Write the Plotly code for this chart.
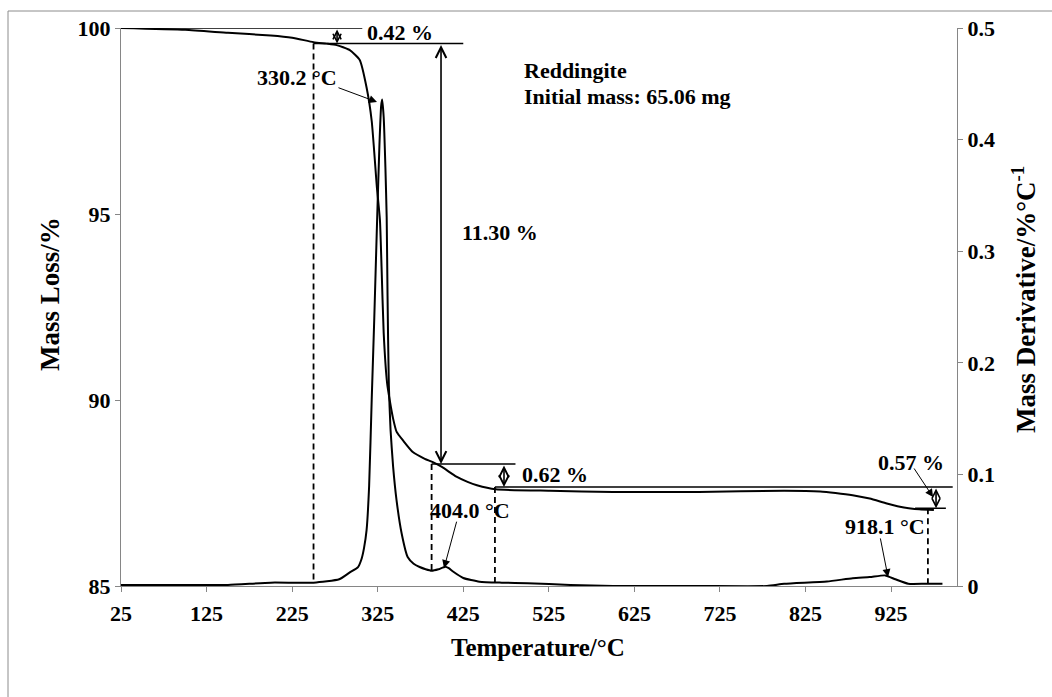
import numpy as np
import plotly.graph_objects as go

# ---------------- data ----------------
tg_temp = [25, 100, 150, 200, 225, 250, 265, 277, 292, 304, 312, 318, 324, 327.6,
           329.5, 332, 336, 339, 343, 347, 355, 366, 380, 389.5, 400, 417, 430, 441,
           463, 526, 600, 700, 800, 842, 860, 880, 900, 920, 940, 958, 975]
tg_mass = [100.0, 99.95, 99.87, 99.80, 99.74, 99.62, 99.58, 99.54, 99.41, 99.14, 98.4,
           97.5, 95.73, 94.84, 93.58, 91.8, 90.45, 90.0, 89.5, 89.15, 88.9, 88.6, 88.42,
           88.33, 88.2, 87.94, 87.8, 87.71, 87.6, 87.56, 87.53, 87.53, 87.56, 87.54,
           87.5, 87.44, 87.35, 87.22, 87.11, 87.06, 87.04]

dtg_temp = [25, 100, 150, 200, 250, 280, 292, 302, 306, 309, 312, 315, 318, 321, 324,
            327, 329, 330.2, 332, 334, 335.5, 336.5, 338, 340, 343, 347, 353, 360, 367,
            374, 381, 388, 396, 404, 408, 413, 425, 444, 470, 500, 550, 600, 700, 780,
            800, 850, 880, 900, 918.1, 930, 945, 965, 985]
dtg_val = [0.001, 0.001, 0.001, 0.003, 0.003, 0.006, 0.012, 0.017, 0.024, 0.034, 0.05,
           0.09, 0.167, 0.24, 0.32, 0.395, 0.43, 0.436, 0.42, 0.375, 0.33, 0.26, 0.18,
           0.14, 0.107, 0.077, 0.047, 0.026, 0.02, 0.017, 0.015, 0.0137, 0.015, 0.0173,
           0.016, 0.013, 0.0072, 0.0039, 0.003, 0.0025, 0.001, 0.0, 0.0, 0.0, 0.002,
           0.004, 0.007, 0.008, 0.0095, 0.006, 0.002, 0.002, 0.002]

x_ticks = [25, 125, 225, 325, 425, 525, 625, 725, 825, 925]
y_left_ticks = [85, 90, 95, 100]
y_right_ticks = [0, 0.1, 0.2, 0.3, 0.4, 0.5]

step_losses = [0.42, 11.30, 0.62, 0.57]          # % mass loss of each step
step_bounds = [250, 388, 462, 968]              # step boundary temperatures (dashed lines)
peak_temps = [330.2, 404.0, 918.1]
sample_name = "Reddingite"
initial_mass = "65.06 mg"

# ---------------- helpers ----------------
FONT = "Liberation Serif, Times New Roman, serif"
X_RANGE = [25, 1002]
YL = [85, 100]
YR = [0, 0.5]


def dtg_as_left(t):
    """DTG value at temperature t, expressed on the left (mass) axis."""
    d = float(np.interp(t, dtg_temp, dtg_val))
    return YL[0] + (d - YR[0]) / (YR[1] - YR[0]) * (YL[1] - YL[0])


levels = [100.0]
for s in step_losses:
    levels.append(round(levels[-1] - s, 2))

fig = go.Figure()
fig.add_trace(go.Scatter(x=tg_temp, y=tg_mass, mode="lines",
                         line=dict(color="black", width=2, shape="spline",
                                   smoothing=0.5),
                         yaxis="y", name="TG"))
fig.add_trace(go.Scatter(x=dtg_temp, y=dtg_val, mode="lines",
                         line=dict(color="black", width=2, shape="spline",
                                   smoothing=0.5),
                         yaxis="y2", name="DTG"))

axis_common = dict(showgrid=False, zeroline=False, showline=True,
                   linecolor="#868686", linewidth=1, ticks="outside", ticklen=5,
                   tickcolor="#868686",
                   tickfont=dict(family=FONT, size=22, color="black", weight="bold"))

shapes = []
annotations = []

LINE = dict(color="black", width=1.5)
DASH = dict(color="black", width=1.8, dash="6px,4px")

# horizontal level lines
h_lines = [
    (levels[0], 25, 307),
    (levels[1], step_bounds[0], 425),
    (levels[2], step_bounds[1], 486),
    (levels[3], step_bounds[2], 997),
    (levels[4], 953, 989),
]
for lvl, x0, x1 in h_lines:
    shapes.append(dict(type="line", xref="x", yref="y", x0=x0, x1=x1,
                       y0=lvl, y1=lvl, line=LINE))

# dashed vertical lines
dash_tops = [levels[1], levels[2], levels[3], levels[4]]
for t, top in zip(step_bounds, dash_tops):
    shapes.append(dict(type="line", xref="x", yref="y", x0=t, x1=t,
                       y0=top, y1=dtg_as_left(t), line=DASH))

# outer border of the chart area
shapes.append(dict(type="rect", xref="paper", yref="paper",
                   x0=(8 - 121) / 836, x1=1.3, y0=-0.4, y1=(586 - 11) / 558,
                   line=dict(color="#8c8c8c", width=1), fillcolor="rgba(0,0,0,0)",
                   layer="below"))

# double arrows spanning each step (open V heads)
dbl = [
    (277.5, levels[0], levels[1], 1.0),
    (399, levels[1], levels[2], 1.3),
    (472.6, levels[2], levels[3], 1.2),
    (977.5, levels[3], levels[4], 1.0),
]
for t, ytop, ybot, sz in dbl:
    annotations.append(dict(x=t, y=ybot, ax=t, ay=ytop, xref="x", yref="y",
                            axref="x", ayref="y", text="", showarrow=True,
                            arrowhead=5, arrowside="end+start", arrowwidth=1.6,
                            arrowsize=sz, arrowcolor="black"))

# pointer arrows from labels to peaks
pointers = [
    (324.2, 98.01, 277.4, 98.41),
    (402.5, 85.48, 417.7, 86.77),
    (974.0, 87.39, 950.7, 88.20),
    (921.4, 85.24, 912.1, 86.32),
]
for xh, yh, xt, yt in pointers:
    annotations.append(dict(x=xh, y=yh, ax=xt, ay=yt, xref="x", yref="y",
                            axref="x", ayref="y", text="", showarrow=True,
                            arrowhead=2, arrowwidth=1, arrowsize=1.6,
                            arrowcolor="black"))

TXT = dict(family=FONT, size=22, color="black", weight="bold")
labels = [
    (f"{step_losses[0]:.2f} %", 310, 99.87, "left"),
    (f"{peak_temps[0]:.1f} °C", 230.7, 98.66, "center"),
    (f"{step_losses[1]:.2f} %", 421.2, 94.49, "left"),
    (f"{step_losses[2]:.2f} %", 491.3, 88.0, "left"),
    (f"{peak_temps[1]:.1f} °C", 433, 87.02, "center"),
    (f"{step_losses[3]:.2f} %", 948.3, 88.31, "center"),
    (f"{peak_temps[2]:.1f} °C", 918, 86.61, "center"),
    (sample_name, 493.7, 98.87, "left"),
    (f"Initial mass: {initial_mass}", 493.7, 98.15, "left"),
]
for txt, x, y, xa in labels:
    annotations.append(dict(x=x, y=y, xref="x", yref="y", text=txt,
                            showarrow=False, xanchor=xa, yanchor="middle",
                            font=TXT))

# axis titles
TTL = dict(family=FONT, size=25, color="black", weight="bold")
annotations.append(dict(x=(538 - 121) / 836, y=(586 - 647) / 558, xref="paper",
                        yref="paper", text="Temperature/°C", showarrow=False,
                        xanchor="center", yanchor="middle", font=TTL))
annotations.append(dict(x=(50 - 121) / 836, y=(586 - 294) / 558, xref="paper",
                        yref="paper", text="Mass Loss/%", showarrow=False,
                        textangle=-90, xanchor="center", yanchor="middle",
                        font=dict(TTL, size=27)))
annotations.append(dict(x=(1024 - 121) / 836, y=(586 - 300) / 558, xref="paper",
                        yref="paper", text="Mass Derivative/%°C<sup>-1</sup>",
                        showarrow=False, textangle=-90, xanchor="center",
                        yanchor="middle", font=dict(TTL, size=27)))

fig.update_layout(
    width=1052, height=697,
    margin=dict(l=121, r=95, t=28, b=111),
    paper_bgcolor="white", plot_bgcolor="white", showlegend=False,
    xaxis=dict(range=X_RANGE, tickvals=x_ticks, ticktext=[str(v) for v in x_ticks],
               ticklabelstandoff=3, **axis_common),
    yaxis=dict(range=YL, tickvals=y_left_ticks,
               ticktext=[str(v) for v in y_left_ticks], **axis_common),
    yaxis2=dict(range=YR, tickvals=y_right_ticks,
                ticktext=["0", "0.1", "0.2", "0.3", "0.4", "0.5"],
                overlaying="y", side="right", **axis_common),
    shapes=shapes,
    annotations=annotations,
)

fig.write_html("out.html")
